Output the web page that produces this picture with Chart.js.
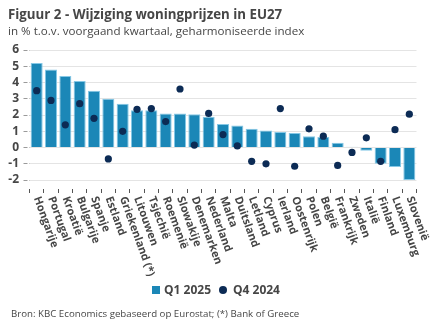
<!DOCTYPE html>
<html>
<head>
<meta charset="utf-8">
<script src="https://cdn.jsdelivr.net/npm/chart.js@4/dist/chart.umd.min.js"></script>
<style>
  body { margin: 0; background: #fff; }
  #wrap { position: relative; width: 432px; height: 334px; font-family: 'Open Sans', sans-serif; color: #464646; }
  #chart { position: absolute; left: 0; top: 0; }
  .title { position: absolute; left: 8px; top: 6px; font-size: 13.3px; font-weight: 700; line-height: 16px; white-space: nowrap; }
  .subtitle { position: absolute; left: 8px; top: 24px; font-size: 11.6px; line-height: 14px; white-space: nowrap; }
  .legend { position: absolute; left: 0; top: 283px; width: 432px; display: flex; justify-content: center; align-items: center;
    font-size: 12px; font-weight: 700; line-height: 14px; }
  .legend span.box { display: inline-block; width: 8px; height: 8px; background: #1b87b7; margin-right: 4px; }
  .legend span.dot { display: inline-block; width: 8px; height: 8px; border-radius: 50%; background: #0c2b55; margin: 0 6px 0 8px; }
  .source { position: absolute; left: 11px; top: 308px; font-size: 9.7px; line-height: 12px; white-space: nowrap; }
</style>
</head>
<body>
<div id="wrap">
  <canvas id="chart" width="432" height="334"></canvas>
  <div class="title">Figuur 2 - Wijziging woningprijzen in EU27</div>
  <div class="subtitle">in % t.o.v. voorgaand kwartaal, geharmoniseerde index</div>
  <div class="legend"><span class="box"></span>Q1 2025<span class="dot"></span>Q4 2024</div>
  <div class="source">Bron: KBC Economics gebaseerd op Eurostat; (*) Bank of Greece</div>
</div>
<script>
const countries = ['Hongarije', 'Portugal', 'Kroatië', 'Bulgarije', 'Spanje', 'Estland', 'Griekenland (*)',
  'Litouwen', 'Tsjechië', 'Roemenië', 'Slowakije', 'Denemarken', 'Nederland', 'Malta', 'Duitsland',
  'Letland', 'Cyprus', 'Ierland', 'Oostenrijk', 'Polen', 'België', 'Frankrijk', 'Zweden', 'Italië',
  'Finland', 'Luxemburg', 'Slovenië'];

const q1_2025 = [5.2, 4.8, 4.4, 4.1, 3.5, 3.0, 2.7, 2.3, 2.3, 2.1, 2.1, 2.05, 1.9, 1.45, 1.35,
  1.15, 1.05, 0.95, 0.9, 0.7, 0.65, 0.3, 0.05, -0.2, -1.0, -1.2, -2.0];

const q4_2024 = [3.5, 2.9, 1.4, 2.7, 1.8, -0.7, 1.0, 2.35, 2.4, 1.6, 3.6, 0.15, 2.1, 0.8, 0.1,
  -0.85, -1.0, 2.4, -1.15, 1.15, 0.7, -1.1, -0.3, 0.6, -0.85, 1.1, 2.05];

const yTicks = [-2, -1, 0, 1, 2, 3, 4, 5, 6];

const FONT = "'Open Sans', sans-serif";
const TEXT = '#464646';

// x labels run down and to the right, starting at the tick
const rotatedLabels = {
  id: 'rotatedLabels',
  afterDraw(chart) {
    const { ctx } = chart;
    const x = chart.scales.x;
    ctx.save();
    ctx.font = 'bold 11px ' + FONT;
    ctx.fillStyle = TEXT;
    ctx.textAlign = 'left';
    ctx.textBaseline = 'middle';
    countries.forEach((name, i) => {
      ctx.save();
      ctx.translate(x.getPixelForTick(i), 197);
      ctx.rotate(70 * Math.PI / 180);
      ctx.fillText(name, 0, 0);
      ctx.restore();
    });
    ctx.restore();
  }
};

new Chart(document.getElementById('chart'), {
  data: {
    labels: countries,
    datasets: [
      {
        type: 'bar',
        label: 'Q1 2025',
        data: q1_2025,
        backgroundColor: '#1b87b7',
        borderColor: '#86c8e6',
        borderWidth: 1,
        barPercentage: 0.84,
        categoryPercentage: 1,
        order: 1
      },
      {
        type: 'line',
        label: 'Q4 2024',
        data: q4_2024,
        showLine: false,
        pointRadius: 3.6,
        pointBackgroundColor: '#0c2b55',
        pointBorderWidth: 0,
        order: 0
      }
    ]
  },
  options: {
    responsive: false,
    animation: false,
    layout: { padding: { top: 50, right: 15.5, left: 0, bottom: 0 } },
    plugins: { legend: { display: false }, tooltip: { enabled: false } },
    scales: {
      x: {
        offset: true,
        border: { display: false },
        grid: {
          offset: true,
          drawOnChartArea: false,
          tickLength: 4,
          tickColor: (c) => c.index === countries.length ? 'transparent' : '#555'
        },
        ticks: { display: false },
        afterFit: (s) => { s.height = 145; }
      },
      y: {
        min: -2.55,
        max: 6,
        border: { display: false },
        grid: {
          color: '#e4e4e4',
          tickLength: 6,
          tickColor: '#9a9a9a',
          tickBorderDash: [4, 2]
        },
        ticks: {
          stepSize: 1,
          autoSkip: false,
          padding: 4.5,
          color: TEXT,
          font: { family: FONT, size: 12, weight: 'bold' }
        },
        afterBuildTicks: (s) => { s.ticks = yTicks.map(v => ({ value: v })); },
        afterFit: (s) => { s.width = 29.5; }
      }
    }
  },
  plugins: [rotatedLabels]
});
</script>
</body>
</html>
